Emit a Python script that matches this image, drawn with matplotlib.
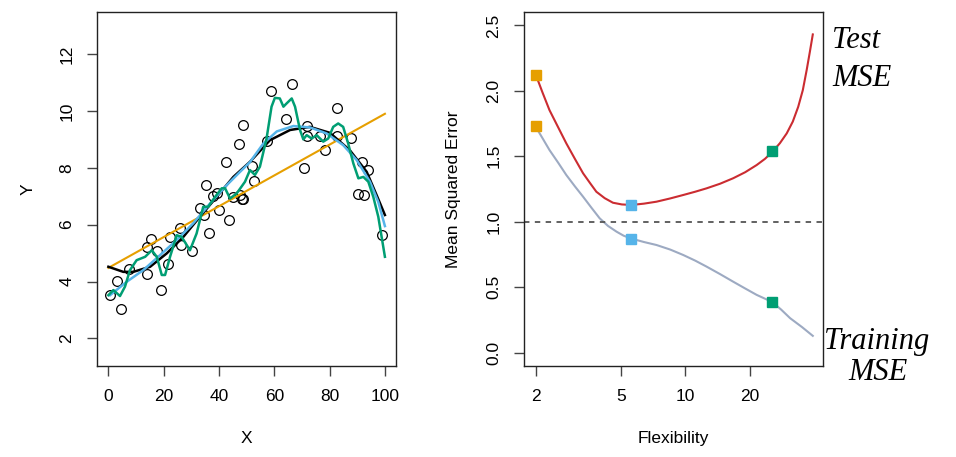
import matplotlib.pyplot as plt

plt.rcParams['font.family'] = ['Liberation Sans', 'DejaVu Sans']

# left panel: observed points
obs_x = [0.6, 3.0, 4.5, 7.5, 13.9, 15.3, 14.1, 17.7, 18.9, 21.7, 22.3, 25.9, 26.3,
         30.4, 33.1, 34.6, 35.4, 36.5, 37.7, 39.2, 40.0, 42.7, 43.7, 45.2, 47.4,
         47.6, 48.2, 48.8, 48.8, 51.8, 52.7, 57.2, 58.9, 64.2, 66.4, 70.6, 71.7,
         72.0, 76.5, 78.3, 82.5, 82.5, 87.6, 91.7, 93.9, 90.1, 92.5, 98.8]
obs_y = [3.52, 4.02, 3.05, 4.43, 5.22, 5.49, 4.28, 5.08, 3.70, 4.60, 5.55, 5.88, 5.28,
         5.07, 6.59, 6.34, 7.41, 5.69, 7.00, 7.10, 6.51, 8.21, 6.16, 6.98, 8.85,
         7.04, 6.89, 9.52, 6.92, 8.06, 7.54, 8.95, 10.69, 9.70, 10.94, 8.01, 9.47,
         9.12, 9.12, 8.62, 10.12, 9.11, 9.05, 8.19, 7.92, 7.09, 7.03, 5.62]

# linear fit (orange)
lin_x = [0, 100]
lin_y = [4.48, 9.90]

# true function (black)
true_x = [0, 5.4, 9.0, 15.1, 21.1, 27.1, 33.1, 39.2, 45.2, 51.2, 58.4, 65.7, 72.9,
          80.1, 87.3, 93.4, 97.0, 100]
true_y = [4.52, 4.34, 4.34, 4.52, 4.99, 5.57, 6.28, 6.98, 7.68, 8.21, 8.97, 9.33, 9.44,
          9.23, 8.62, 7.86, 7.04, 6.34]

# smoothing spline (blue)
blue_x = [0.6, 6.6, 12.6, 18.7, 24.7, 30.7, 36.8, 42.8, 47.0, 51.2, 56.0, 60.9, 66.9,
          72.9, 78.9, 84.9, 89.8, 94.6, 97.6, 100]
blue_y = [3.52, 3.99, 4.40, 4.93, 5.46, 6.05, 6.75, 7.39, 7.80, 8.20, 8.85, 9.28, 9.47,
          9.42, 9.21, 8.80, 8.27, 7.51, 6.80, 5.95]

# flexible spline (green)
green_x = [0, 1.8, 4.2, 6.0, 7.8, 10.2, 13.3, 15.7, 17.5, 19.3, 20.5, 22.3, 24.7, 26.5,
           29.5, 31.9, 34.3, 36.1, 38.6, 41.0, 42.2, 44.0, 46.4, 49.4, 51.2, 53.0,
           54.8, 57.2, 59.0, 60.2, 62.0, 63.3, 64.4, 66.3, 67.5, 69.3, 70.5, 71.7,
           73.5, 75.3, 77.7, 79.5, 81.3, 83.1, 84.9, 86.7, 88.6, 90.4, 92.2, 94.0,
           95.8, 97.6, 99.0, 100]
green_y = [3.52, 3.70, 3.49, 3.82, 4.40, 4.75, 4.87, 5.10, 4.87, 4.23, 4.23, 4.87, 5.63,
           5.57, 5.10, 5.69, 6.63, 6.63, 6.98, 7.28, 7.28, 6.92, 7.10, 7.51, 7.92,
           7.75, 8.04, 9.03, 10.15, 10.46, 10.44, 10.15, 10.26, 10.44, 10.15, 9.33,
           9.00, 9.15, 9.03, 9.15, 8.92, 9.03, 9.44, 9.56, 9.44, 8.86, 8.15, 7.63,
           7.68, 7.51, 6.98, 6.28, 5.46, 4.87]

# right panel: MSE curves
test_x = [2.0, 2.15, 2.32, 2.55, 2.78, 3.05, 3.33, 3.60, 3.84, 4.20, 4.59, 5.05, 5.60,
          6.40, 7.33, 8.50, 9.76, 11.1, 12.55, 14.5, 16.7, 19.0, 21.5, 23.5, 25.5,
          27.6, 29.7, 31.7, 33.6, 35.3, 36.8, 38.1, 39.3]
test_y = [2.126, 1.990, 1.853, 1.720, 1.599, 1.480, 1.370, 1.292, 1.229, 1.180, 1.145,
          1.132, 1.128, 1.138, 1.153, 1.178, 1.204, 1.229, 1.255, 1.290, 1.332, 1.378,
          1.433, 1.480, 1.535, 1.600, 1.675, 1.765, 1.878, 2.005, 2.159, 2.300, 2.431]
train_x = [2.0, 2.15, 2.32, 2.55, 2.78, 3.05, 3.33, 3.65, 3.98, 4.35, 4.77, 5.15, 5.60,
           6.40, 7.33, 8.50, 9.76, 11.1, 12.55, 14.5, 16.7, 19.0, 21.5, 23.5, 25.5,
           28.0, 30.8, 35.0, 39.3]
train_y = [1.726, 1.640, 1.548, 1.450, 1.357, 1.270, 1.191, 1.105, 1.026, 0.968, 0.924,
           0.893, 0.871, 0.845, 0.822, 0.787, 0.746, 0.703, 0.657, 0.600, 0.542, 0.490,
           0.441, 0.412, 0.385, 0.328, 0.263, 0.195, 0.128]

flex = [2.0, 5.56, 25.3]
test_pts = [2.12, 1.13, 1.54]
train_pts = [1.73, 0.87, 0.39]
pt_colors = ['#E69F00', '#56B4E9', '#009E73']

fig = plt.figure(figsize=(9.56, 4.57), dpi=100)
ax1 = fig.add_axes([0.1018, 0.1998, 0.3124, 0.7733])
ax2 = fig.add_axes([0.5484, 0.1998, 0.3128, 0.7733])

ax1.plot(obs_x, obs_y, 'o', mfc='none', mec='black', ms=7, mew=0.9)
ax1.plot(lin_x, lin_y, color='#E69F00', lw=1.5)
ax1.plot(true_x, true_y, color='black', lw=1.8)
ax1.plot(blue_x, blue_y, color='#56B4E9', lw=1.8)
ax1.plot(green_x, green_y, color='#009E73', lw=1.8)
ax1.set_xlim(-4, 104)
ax1.set_ylim(1.04, 13.47)
ax1.set_xticks([0, 20, 40, 60, 80, 100])
ax1.set_yticks([2, 4, 6, 8, 10, 12])
ax1.set_xlabel('X', fontsize=12.5, labelpad=20)
ax1.set_ylabel('Y', fontsize=12.5, labelpad=17)

ax2.plot(test_x, test_y, color='#CB2C31', lw=1.5)
ax2.plot(train_x, train_y, color='#9DAAC2', lw=1.5)
ax2.axhline(1.0, color='#555555', lw=1.3, linestyle=(0, (3, 3)))
for xv, ty, tr, c in zip(flex, test_pts, train_pts, pt_colors):
    ax2.plot([xv, xv], [ty, tr], 's', color=c, ms=7.5, ls='none')
ax2.set_xscale('log')
ax2.set_xlim(1.77, 44)
ax2.set_ylim(-0.1, 2.6)
ax2.set_xticks([2, 5, 10, 20])
ax2.set_xticklabels(['2', '5', '10', '20'])
ax2.minorticks_off()
ax2.set_yticks([0.0, 0.5, 1.0, 1.5, 2.0, 2.5])
ax2.set_yticklabels(['0.0', '0.5', '1.0', '1.5', '2.0', '2.5'])
ax2.set_xlabel('Flexibility', fontsize=12.5, labelpad=20)
ax2.set_ylabel('Mean Squared Error', fontsize=12.5, labelpad=18)

for ax in (ax1, ax2):
    for s in ax.spines.values():
        s.set_color('#222222')
        s.set_linewidth(1.0)
    ax.tick_params(direction='out', length=7.5, width=1, color='#444444',
                   labelsize=12.5, pad=9)
    ax.tick_params(axis='y', labelrotation=90)
    for lab in ax.get_yticklabels():
        lab.set_va('center')

hand = dict(fontsize=22, family='Liberation Serif', style='italic', color='black',
            ha='center', va='center')
fig.text(856 / 956, 1 - 41 / 457, 'Test', **hand)
fig.text(862 / 956, 1 - 79 / 457, 'MSE', **hand)
fig.text(877 / 956, 1 - 341 / 457, 'Training', **hand)
fig.text(878 / 956, 1 - 372 / 457, 'MSE', **hand)

plt.savefig('out.png', dpi=100)
plt.close()
